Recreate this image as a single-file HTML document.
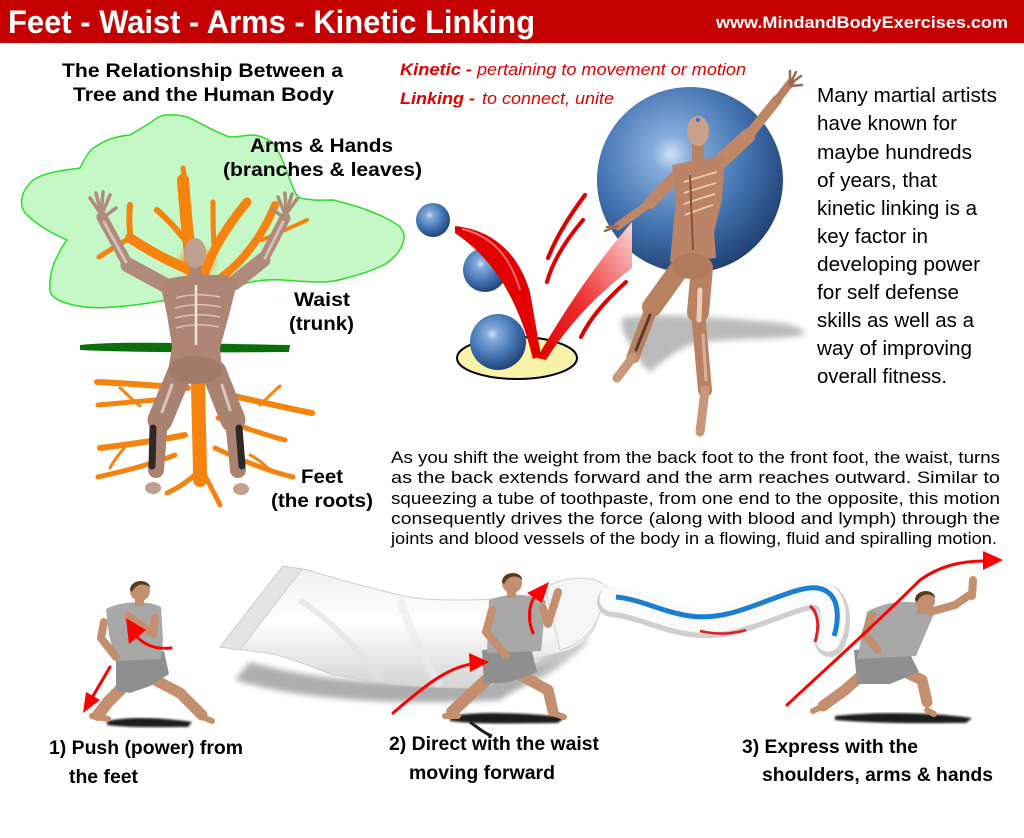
<!DOCTYPE html>
<html><head><meta charset="utf-8"><style>
html,body{margin:0;padding:0;background:#fff;}
svg{display:block;}
text{font-family:"Liberation Sans",Arial,sans-serif;}
</style></head><body>
<svg width="1024" height="838" viewBox="0 0 1024 838" xmlns="http://www.w3.org/2000/svg">
<defs>
 <radialGradient id="ball" cx="0.4" cy="0.36" r="0.68">
  <stop offset="0" stop-color="#cfe2f6"/>
  <stop offset="0.15" stop-color="#86acdb"/>
  <stop offset="0.6" stop-color="#4272b0"/>
  <stop offset="1" stop-color="#1f3f70"/>
 </radialGradient>
 <linearGradient id="chk" x1="0" y1="1" x2="1" y2="0">
  <stop offset="0" stop-color="#e00000"/>
  <stop offset="0.45" stop-color="#ee3030"/>
  <stop offset="1" stop-color="#fbd6d6"/>
 </linearGradient>
 <linearGradient id="tube" x1="0" y1="0" x2="0" y2="1">
  <stop offset="0" stop-color="#eeeeee"/><stop offset="0.45" stop-color="#ffffff"/><stop offset="1" stop-color="#d4d4d4"/>
 </linearGradient>
 <filter id="blur"><feGaussianBlur stdDeviation="3"/></filter>
 <filter id="blur1"><feGaussianBlur stdDeviation="1"/></filter>
</defs>
<rect width="1024" height="838" fill="#fff"/>

<!-- Header -->
<rect width="1024" height="43" fill="#c40000"/>
<text x="8" y="33" font-size="32" font-weight="bold" fill="#fff" textLength="527" lengthAdjust="spacingAndGlyphs">Feet - Waist - Arms - Kinetic Linking</text>
<text x="716" y="28" font-size="17" font-weight="bold" fill="#fff" textLength="292" lengthAdjust="spacingAndGlyphs">www.MindandBodyExercises.com</text>

<!-- Tree title -->
<text x="62" y="77" font-size="19" font-weight="bold" fill="#000" textLength="281" lengthAdjust="spacingAndGlyphs">The Relationship Between a</text>
<text x="73" y="101" font-size="19" font-weight="bold" fill="#000" textLength="261" lengthAdjust="spacingAndGlyphs">Tree and the Human Body</text>

<!-- Kinetic definitions -->
<text x="400" y="75" font-size="17" font-weight="bold" font-style="italic" fill="#e00000" textLength="72" lengthAdjust="spacingAndGlyphs">Kinetic -</text>
<text x="477" y="75" font-size="17" font-style="italic" fill="#e00000" textLength="269" lengthAdjust="spacingAndGlyphs">pertaining to movement or motion</text>
<text x="400" y="104" font-size="17" font-weight="bold" font-style="italic" fill="#e00000" textLength="75" lengthAdjust="spacingAndGlyphs">Linking -</text>
<text x="482" y="104" font-size="17" font-style="italic" fill="#e00000" textLength="132" lengthAdjust="spacingAndGlyphs">to connect, unite</text>

<!-- Green cloud -->
<path d="M113,307 C85,310 50,303 50,290 C49,278 52,266 57,257 C60,250 64,244 67,240 C58,236 40,228 25,213 C18,203 22,190 33,180 C45,172 65,170 80,168 C85,158 89,150 95,147 C105,140 118,136 130,135 C138,130 145,126 150,123 C156,118 161,115 167,115 C176,114 182,116 187,117 C200,122 214,132 230,137 C238,137 246,135 253,135 C262,136 268,139 273,143 C282,155 286,170 290,180 C294,190 296,196 300,198 C312,201 322,200 333,200 C346,203 356,206 367,210 C380,215 392,220 400,227 C405,233 405,238 403,243 C400,252 394,258 387,263 C375,270 362,274 350,277 C340,280 332,282 323,282 C308,282 295,281 283,280 C268,279 255,280 240,285 C210,292 150,305 113,307 Z" fill="#c6f7c6" stroke="#2edc2e" stroke-width="1.5"/>

<!-- Ground -->
<path d="M80,345 C120,341 180,343 290,345 L289,352 C200,353 120,352 80,350 Z" fill="#0b6e0b"/>

<!-- Tree branches -->
<g stroke="#f5830f" stroke-linecap="round" fill="none">
 <path d="M196,300 C190,260 186,220 183,180" stroke-width="12"/>
 <path d="M185,180 L183,168" stroke-width="5"/>
 <path d="M190,270 C170,262 148,250 130,238" stroke-width="10"/>
 <path d="M131,240 C129,228 129,216 130,205" stroke-width="6"/>
 <path d="M130,238 C117,245 107,252 99,257" stroke-width="5"/>
 <path d="M185,240 C176,228 166,218 157,210" stroke-width="6"/>
 <path d="M204,275 C212,250 228,225 247,202" stroke-width="9"/>
 <path d="M214,245 C213,230 213,215 213,202" stroke-width="5"/>
 <path d="M214,282 C238,268 262,238 275,205" stroke-width="8"/>
 <path d="M262,240 C280,232 295,226 307,220" stroke-width="4"/>
 <!-- roots -->
 <path d="M198,372 C198,410 200,450 200,480" stroke-width="14"/>
 <path d="M200,470 C190,480 178,488 167,493" stroke-width="5"/>
 <path d="M202,470 C210,485 216,497 220,505" stroke-width="5"/>
 <path d="M188,388 C160,386 125,383 97,382" stroke-width="6"/>
 <path d="M180,398 C155,400 120,403 98,405" stroke-width="5"/>
 <path d="M185,435 C160,440 125,445 100,448" stroke-width="6"/>
 <path d="M175,455 C150,465 120,472 98,477" stroke-width="5"/>
 <path d="M214,392 C245,398 285,408 312,413" stroke-width="6"/>
 <path d="M218,418 C245,428 268,436 285,440" stroke-width="5"/>
 <path d="M215,448 C245,462 272,472 293,477" stroke-width="5"/>
 <path d="M140,406 C130,398 125,392 120,388" stroke-width="3"/>
 <path d="M260,405 C270,395 275,390 280,386" stroke-width="3"/>
 <path d="M125,447 C118,455 113,462 110,468" stroke-width="3"/>
 <path d="M270,470 C262,462 256,458 250,455" stroke-width="3"/>
</g>
<ellipse cx="197" cy="262" rx="18" ry="14" fill="#f5830f" opacity="0.6" filter="url(#blur)"/>

<!-- Tree man -->
<g stroke-linecap="round" stroke-linejoin="round" fill="none">
 <line x1="165" y1="285" x2="128" y2="265" stroke="#b08a7a" stroke-width="15"/>
 <line x1="128" y1="265" x2="102" y2="217" stroke="#b08a7a" stroke-width="11"/>
 <line x1="234" y1="283" x2="263" y2="260" stroke="#b08a7a" stroke-width="15"/>
 <line x1="263" y1="260" x2="285" y2="218" stroke="#b08a7a" stroke-width="11"/>
 <line x1="126" y1="262" x2="104" y2="222" stroke="#d6c0b4" stroke-width="3"/>
 <line x1="265" y1="258" x2="283" y2="222" stroke="#d6c0b4" stroke-width="3"/>
 <g stroke="#b08a7a" stroke-width="3.5">
  <line x1="101" y1="214" x2="90" y2="198"/><line x1="101" y1="214" x2="96" y2="193"/>
  <line x1="101" y1="214" x2="103" y2="192"/><line x1="102" y1="214" x2="110" y2="195"/>
  <line x1="104" y1="217" x2="116" y2="208"/>
  <line x1="286" y1="214" x2="297" y2="199"/><line x1="286" y1="214" x2="292" y2="194"/>
  <line x1="286" y1="214" x2="285" y2="193"/><line x1="285" y1="214" x2="278" y2="197"/>
  <line x1="283" y1="217" x2="272" y2="209"/>
 </g>
 <line x1="180" y1="372" x2="160" y2="420" stroke="#aa8272" stroke-width="25"/>
 <line x1="160" y1="420" x2="156" y2="470" stroke="#aa8272" stroke-width="16"/>
 <line x1="214" y1="372" x2="233" y2="420" stroke="#aa8272" stroke-width="25"/>
 <line x1="233" y1="420" x2="238" y2="470" stroke="#aa8272" stroke-width="16"/>
 <line x1="153" y1="428" x2="152" y2="466" stroke="#2e2826" stroke-width="7"/>
 <line x1="239" y1="428" x2="242" y2="466" stroke="#2e2826" stroke-width="7"/>
 <line x1="172" y1="385" x2="162" y2="412" stroke="#dcc6ba" stroke-width="3"/>
 <line x1="222" y1="385" x2="230" y2="410" stroke="#dcc6ba" stroke-width="3"/>
</g>
<path d="M160,282 C175,274 220,272 238,279 L229,315 L220,348 L222,370 L168,372 L172,346 L167,315 Z" fill="#ae8574"/>
<g stroke="#d9c2b5" stroke-width="1.5" fill="none">
 <path d="M176,298 Q196,292 220,297"/><path d="M175,308 Q196,302 221,307"/>
 <path d="M175,318 Q196,312 220,317"/><path d="M176,328 Q196,322 219,327"/>
</g>
<line x1="196" y1="285" x2="196" y2="345" stroke="#ece2dc" stroke-width="2.5"/>
<ellipse cx="195" cy="370" rx="27" ry="14" fill="#a27a6a"/>
<rect x="189" y="262" width="13" height="16" fill="#ad8676"/>
<ellipse cx="195" cy="253" rx="11" ry="15" fill="#c0a090"/>
<ellipse cx="153" cy="488" rx="8" ry="6" fill="#c0a090"/>
<ellipse cx="241" cy="489" rx="8" ry="6" fill="#c0a090"/>

<!-- Tree labels -->
<g font-size="19" font-weight="bold" fill="#000">
<text x="250" y="152" textLength="143" lengthAdjust="spacingAndGlyphs">Arms &amp; Hands</text>
<text x="223" y="176" textLength="199" lengthAdjust="spacingAndGlyphs">(branches &amp; leaves)</text>
<text x="294" y="306" textLength="56" lengthAdjust="spacingAndGlyphs">Waist</text>
<text x="289" y="330" textLength="65" lengthAdjust="spacingAndGlyphs">(trunk)</text>
<text x="301" y="483" textLength="42" lengthAdjust="spacingAndGlyphs">Feet</text>
<text x="271" y="507" textLength="102" lengthAdjust="spacingAndGlyphs">(the roots)</text>
</g>

<!-- Middle graphic -->
<circle cx="690" cy="180" r="93" fill="url(#ball)"/>
<ellipse cx="517" cy="358" rx="60" ry="21" fill="#f8f3a6" stroke="#000" stroke-width="2"/>
<circle cx="433" cy="220" r="17" fill="url(#ball)"/>
<circle cx="485" cy="270" r="22" fill="url(#ball)"/>
<circle cx="498" cy="342" r="28" fill="url(#ball)"/>
<!-- check -->
<path d="M537,358 C560,318 592,268 632,222 L632,268 C600,292 570,322 546,360 Z" fill="url(#chk)"/>
<path d="M455,226 C492,230 518,252 530,292 L541,356 L533,359 C520,306 498,262 455,233 Z" fill="#e20000"/>
<path d="M462,229 C492,236 510,256 520,290" stroke="#ff6a6a" stroke-width="2" fill="none"/>
<g stroke="#e00000" stroke-linecap="round" fill="none">
 <path d="M585,195 C570,215 557,235 548,258" stroke-width="4"/>
 <path d="M583,220 C566,240 553,260 547,282" stroke-width="4"/>
 <path d="M626,282 C606,300 590,318 581,337" stroke-width="4"/>
</g>

<!-- Skeleton man shadow -->
<path d="M622,318 C660,312 720,318 770,322 C790,323 803,328 805,334 C790,340 740,338 700,342 C680,346 665,360 650,372 C640,365 630,345 622,330 Z" fill="#a4a4a4" opacity="0.75" filter="url(#blur)"/>
<!-- Skeleton man -->
<g stroke-linecap="round" stroke-linejoin="round" fill="none">
 <line x1="680" y1="268" x2="652" y2="307" stroke="#b88262" stroke-width="20"/>
 <line x1="652" y1="307" x2="633" y2="357" stroke="#b88262" stroke-width="13"/>
 <line x1="633" y1="357" x2="617" y2="378" stroke="#c8987c" stroke-width="9"/>
 <line x1="702" y1="268" x2="698" y2="312" stroke="#b88262" stroke-width="22"/>
 <line x1="698" y1="312" x2="705" y2="390" stroke="#b88262" stroke-width="14"/>
 <line x1="705" y1="390" x2="700" y2="432" stroke="#c8987c" stroke-width="9"/>
 <line x1="700" y1="290" x2="699" y2="320" stroke="#ead0bf" stroke-width="5"/>
 <line x1="703" y1="335" x2="706" y2="380" stroke="#d8b29a" stroke-width="3"/>
 <line x1="650" y1="315" x2="636" y2="350" stroke="#5a3a2a" stroke-width="3"/>
 <line x1="722" y1="160" x2="748" y2="136" stroke="#bd8768" stroke-width="15"/>
 <line x1="748" y1="136" x2="777" y2="100" stroke="#bd8768" stroke-width="10"/>
 <line x1="777" y1="100" x2="791" y2="82" stroke="#b88262" stroke-width="8"/>
 <line x1="680" y1="172" x2="650" y2="203" stroke="#bd8768" stroke-width="12"/>
 <line x1="650" y1="203" x2="618" y2="226" stroke="#bd8768" stroke-width="8"/>
 <g stroke="#9a6a52" stroke-width="2.5">
  <line x1="790" y1="84" x2="790" y2="71"/><line x1="790" y1="84" x2="796" y2="72"/>
  <line x1="790" y1="84" x2="801" y2="76"/><line x1="791" y1="86" x2="802" y2="85"/>
  <line x1="618" y1="226" x2="605" y2="231"/><line x1="618" y1="226" x2="607" y2="227"/>
 </g>
</g>
<path d="M672,165 L725,155 L722,200 L714,232 L716,258 L670,262 L673,230 L676,200 Z" fill="#bb8466"/>
<g stroke="#ecc9b2" stroke-width="1.8" fill="none">
 <path d="M684,182 Q702,176 717,172"/><path d="M684,193 Q702,187 716,183"/>
 <path d="M684,204 Q701,198 715,194"/><path d="M685,215 Q700,209 713,205"/>
</g>
<line x1="690" y1="175" x2="693" y2="250" stroke="#8a4f3a" stroke-width="2"/>
<ellipse cx="692" cy="266" rx="20" ry="13" fill="#b27a5c"/>
<rect x="692" y="141" width="12" height="20" fill="#b88262"/>
<ellipse cx="698" cy="131" rx="11" ry="15" fill="#c9a08a"/>
<circle cx="698" cy="120" r="2" fill="#3070d0"/>

<!-- Right paragraph -->
<g font-size="20" fill="#000">
<text x="817" y="102" textLength="180" lengthAdjust="spacingAndGlyphs">Many martial artists</text>
<text x="817" y="130" textLength="140" lengthAdjust="spacingAndGlyphs">have known for</text>
<text x="817" y="159" textLength="155" lengthAdjust="spacingAndGlyphs">maybe hundreds</text>
<text x="817" y="187" textLength="120" lengthAdjust="spacingAndGlyphs">of years, that</text>
<text x="817" y="215" textLength="160" lengthAdjust="spacingAndGlyphs">kinetic linking is a</text>
<text x="817" y="243" textLength="111" lengthAdjust="spacingAndGlyphs">key factor in</text>
<text x="817" y="271" textLength="163" lengthAdjust="spacingAndGlyphs">developing power</text>
<text x="817" y="299" textLength="142" lengthAdjust="spacingAndGlyphs">for self defense</text>
<text x="817" y="327" textLength="157" lengthAdjust="spacingAndGlyphs">skills as well as a</text>
<text x="817" y="355" textLength="155" lengthAdjust="spacingAndGlyphs">way of improving</text>
<text x="817" y="383" textLength="130" lengthAdjust="spacingAndGlyphs">overall fitness.</text>
</g>

<!-- Bottom paragraph -->
<g font-size="16.5" fill="#000">
<text x="391" y="463" textLength="609" lengthAdjust="spacingAndGlyphs">As you shift the weight from the back foot to the front foot, the waist, turns</text>
<text x="391" y="483" textLength="609" lengthAdjust="spacingAndGlyphs">as the back extends forward and the arm reaches outward. Similar to</text>
<text x="391" y="504" textLength="609" lengthAdjust="spacingAndGlyphs">squeezing a tube of toothpaste, from one end to the opposite, this motion</text>
<text x="391" y="524" textLength="609" lengthAdjust="spacingAndGlyphs">consequently drives the force (along with blood and lymph) through the</text>
<text x="391" y="544" textLength="606" lengthAdjust="spacingAndGlyphs">joints and blood vessels of the body in a flowing, fluid and spiralling motion.</text>
</g>

<!-- Toothpaste tube -->
<path d="M235,680 C300,700 400,706 500,700 L560,660 C480,690 350,690 250,662 Z" fill="#9a9a9a" opacity="0.8" filter="url(#blur)"/>
<path d="M500,690 C530,690 560,670 590,640 L560,640 Z" fill="#b0b0b0" opacity="0.7" filter="url(#blur)"/>
<path d="M283,566 L308,570 C340,580 370,588 400,595 C420,600 440,600 470,600 L520,598 L560,590 L595,583 L600,600 C600,625 590,640 570,650 L530,660 C510,672 495,685 483,688 C440,688 400,686 383,683 C360,680 345,676 333,675 C300,662 280,655 267,653 L220,647 Z" fill="url(#tube)" stroke="#cfcfcf" stroke-width="1"/>
<path d="M220,647 L283,566 L302,569 L240,650 Z" fill="#e4e4e4" stroke="#cfcfcf" stroke-width="1"/>
<path d="M300,600 C330,620 360,650 380,680" stroke="#e2e2e2" stroke-width="6" fill="none" opacity="0.7"/>
<path d="M400,600 C410,630 425,660 440,686" stroke="#ebebeb" stroke-width="8" fill="none" opacity="0.7"/>
<path d="M545,588 C560,578 585,575 600,582 L615,592 L615,606 L600,612 C595,630 580,645 560,650 Z" fill="#f6f6f6" stroke="#d0d0d0" stroke-width="1"/>
<!-- paste -->
<path d="M612,602 C640,605 660,617 690,622 C720,627 745,617 772,607 C800,597 815,590 828,600 C838,610 836,630 830,642" stroke="#cfcfcf" stroke-width="30" fill="none" stroke-linecap="round"/>
<path d="M612,599 C640,602 660,614 690,619 C720,624 745,614 772,604 C800,594 815,587 827,597 C836,607 834,627 828,639" stroke="#fbfbfb" stroke-width="25" fill="none" stroke-linecap="round"/>
<path d="M616,597 C640,599 662,612 690,616 C720,620 745,609 772,599 C800,589 818,582 830,594 C840,604 838,624 834,636" stroke="#1c7ecf" stroke-width="5" fill="none"/>
<path d="M810,606 C818,612 820,626 815,642" stroke="#e02020" stroke-width="3" fill="none"/>
<path d="M700,631 C718,635 732,634 746,630" stroke="#e02020" stroke-width="2.5" fill="none"/>

<!-- Figure 1 -->
<path d="M107,721 C130,716 165,718 192,722 L188,727 C160,727 130,728 107,725 Z" fill="#1e1e1e" filter="url(#blur1)"/>
<g stroke-linecap="round" stroke-linejoin="round" fill="none">
 <polyline points="155,680 180,693 202,715" stroke="#c48f6e" stroke-width="11"/>
 <polyline points="200,716 212,721" stroke="#c48f6e" stroke-width="6"/>
 <polyline points="128,682 108,702 98,715" stroke="#c48f6e" stroke-width="12"/>
 <polyline points="92,716 108,719" stroke="#c48f6e" stroke-width="6"/>
</g>
<path d="M116,655 L164,651 L169,674 L150,686 L130,693 L116,690 Z" fill="#8f8f8f"/>
<path d="M106,609 C120,601 150,600 161,607 L163,640 L161,659 L116,661 L109,635 Z" fill="#a8a8a8"/>
<g stroke-linecap="round" stroke-linejoin="round" fill="none" stroke="#c48f6e" stroke-width="8">
 <polyline points="104,622 101,638 116,657"/>
 <polyline points="155,618 153,634 128,616"/>
</g>
<rect x="135" y="598" width="9" height="8" fill="#c48f6e"/>
<circle cx="140" cy="591" r="10" fill="#c48f6e"/>
<path d="M130,590 C130,579 150,578 150,588 L148,586 C142,583 136,584 132,592 Z" fill="#5a3a1e"/>

<!-- Figure 2 -->
<path d="M450,716 C480,711 525,713 565,717 L558,723 C520,723 480,725 450,721 Z" fill="#1e1e1e" filter="url(#blur1)"/>
<path d="M470,722 C478,728 486,734 492,736" stroke="#1e1e1e" stroke-width="3" fill="none"/>
<g stroke-linecap="round" stroke-linejoin="round" fill="none">
 <polyline points="522,676 548,690 553,711" stroke="#c48f6e" stroke-width="11"/>
 <polyline points="553,713 564,717" stroke="#c48f6e" stroke-width="6"/>
 <polyline points="492,675 470,695 452,712" stroke="#c48f6e" stroke-width="12"/>
 <polyline points="445,716 458,716" stroke="#c48f6e" stroke-width="6"/>
</g>
<path d="M482,650 L531,647 L537,672 L510,682 L484,684 Z" fill="#8f8f8f"/>
<path d="M489,600 C505,593 530,593 546,601 L541,651 L487,653 Z" fill="#a8a8a8"/>
<g stroke-linecap="round" stroke-linejoin="round" fill="none" stroke="#c48f6e" stroke-width="8">
 <polyline points="543,608 548,624 558,592"/>
 <polyline points="492,610 486,632 506,655"/>
</g>
<rect x="507" y="590" width="9" height="8" fill="#c48f6e"/>
<circle cx="512" cy="583" r="10" fill="#c48f6e"/>
<path d="M502,582 C502,571 522,570 522,580 L520,578 C514,575 508,576 504,584 Z" fill="#5a3a1e"/>

<!-- Figure 3 -->
<path d="M835,716 C880,711 940,713 972,718 L966,723 C930,723 880,724 835,720 Z" fill="#1e1e1e" filter="url(#blur1)"/>
<g stroke-linecap="round" stroke-linejoin="round" fill="none">
 <polyline points="862,675 845,690 823,706" stroke="#c48f6e" stroke-width="11"/>
 <polyline points="823,706 813,711" stroke="#c48f6e" stroke-width="6"/>
 <polyline points="905,672 922,680 927,702" stroke="#c48f6e" stroke-width="11"/>
 <polyline points="927,710 934,714" stroke="#c48f6e" stroke-width="6"/>
</g>
<path d="M854,650 L905,644 L919,672 L890,684 L857,684 Z" fill="#8f8f8f"/>
<path d="M867,612 C888,599 920,599 936,609 L916,656 L857,659 Z" fill="#a8a8a8"/>
<g stroke-linecap="round" stroke-linejoin="round" fill="none" stroke="#c48f6e" stroke-width="8">
 <polyline points="930,612 955,605 971,594"/>
 <polyline points="972,596 973,580"/>
 <polyline points="872,615 865,635 878,650"/>
</g>
<rect x="917" y="606" width="9" height="8" fill="#c48f6e"/>
<circle cx="925" cy="601" r="10" fill="#c48f6e"/>
<path d="M915,600 C915,589 935,588 935,598 L933,596 C927,593 921,594 917,602 Z" fill="#5a3a1e"/>

<!-- Red arrows -->
<g stroke="#ff0000" stroke-width="3" fill="none" stroke-linecap="round">
 <path d="M110,667 L93,696"/>
 <path d="M171,648 C152,650 140,642 133,632"/>
 <path d="M393,713 C420,690 445,668 472,664"/>
 <path d="M533,633 C526,616 530,600 538,593"/>
 <path d="M787,705 C830,665 880,620 920,580 C940,566 960,561 985,561"/>
</g>
<g fill="#ff0000">
 <polygon points="83,713 100,700 86,692"/>
 <polygon points="126,618 129,644 146,630"/>
 <polygon points="489,662 469,653 470,672"/>
 <polygon points="549,582 527,593 542,603"/>
 <polygon points="1003,560 983,551 983,570"/>
</g>

<!-- Bottom labels -->
<g font-size="19" font-weight="bold" fill="#000">
<text x="49" y="754" textLength="194" lengthAdjust="spacingAndGlyphs">1) Push (power) from</text>
<text x="69" y="783" textLength="69" lengthAdjust="spacingAndGlyphs">the feet</text>
<text x="389" y="750" textLength="210" lengthAdjust="spacingAndGlyphs">2) Direct with the waist</text>
<text x="409" y="779" textLength="146" lengthAdjust="spacingAndGlyphs">moving forward</text>
<text x="742" y="753" textLength="176" lengthAdjust="spacingAndGlyphs">3) Express with the</text>
<text x="762" y="781" textLength="231" lengthAdjust="spacingAndGlyphs">shoulders, arms &amp; hands</text>
</g>
</svg>
</body></html>
